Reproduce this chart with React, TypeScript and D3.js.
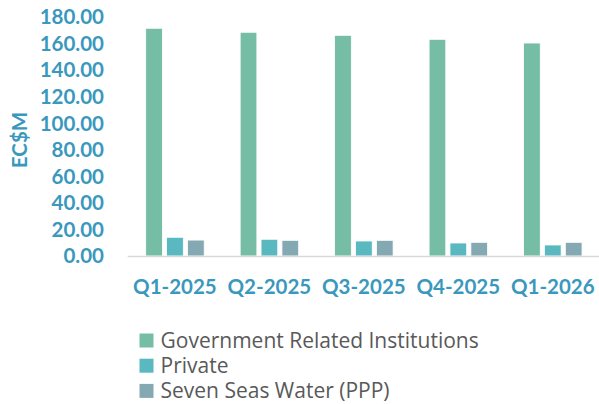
import React from "react";
import * as d3 from "d3";

const categories = ["Q1-2025", "Q2-2025", "Q3-2025", "Q4-2025", "Q1-2026"];
const seriesNames = ["Government Related Institutions", "Private", "Seven Seas Water (PPP)"];
const government = [171.5, 168.5, 166.2, 163.2, 160.4];
const privateVals = [14.1, 12.6, 11.3, 9.8, 8.3];
const sevenSeas = [12.0, 11.8, 11.8, 10.3, 10.3];
const yTicks = [0, 20, 40, 60, 80, 100, 120, 140, 160, 180];
const colors = ["#76bda6", "#5ab8c0", "#85a9b3"];

const W = 599;
const H = 404;
const font = "Lato, 'Open Sans', sans-serif";
const blue = "#3a98bd";

export default function App() {
  const series = [government, privateVals, sevenSeas];
  const x0 = d3.scaleBand<string>().domain(categories).range([127.7, 600]).padding(0);
  const x1 = d3
    .scaleBand<number>()
    .domain([0, 1, 2])
    .range([18, 76.5])
    .paddingInner(0.2)
    .paddingOuter(0);
  const y = d3.scaleLinear().domain([0, 180]).range([256, 17]);

  return (
    <svg
      width={W}
      height={H}
      style={{ position: "absolute", left: 0, top: 0, background: "#fff" }}
      fontFamily={font}
    >
      {categories.map((c, i) => (
        <g key={c} transform={`translate(${x0(c)},0)`}>
          {series.map((s, j) => (
            <rect
              key={j}
              x={x1(j)}
              y={y(s[i])}
              width={x1.bandwidth()}
              height={y(0) - y(s[i])}
              fill={colors[j]}
              stroke="#ffffff"
              strokeWidth={0.8}
            />
          ))}
        </g>
      ))}
      <line x1={127.7} x2={599} y1={y(0) + 0.5} y2={y(0) + 0.5} stroke="#d9d9d9" strokeWidth={1.5} />
      {yTicks.map((t) => (
        <text
          key={t}
          x={104}
          y={y(t)}
          dy="0.36em"
          textAnchor="end"
          fontSize={20.5}
          fontWeight={700}
          fill={blue}
        >
          {d3.format(".2f")(t)}
        </text>
      ))}
      {categories.map((c) => (
        <text
          key={c}
          x={(x0(c) as number) + x0.bandwidth() / 2}
          y={294}
          textAnchor="middle"
          fontSize={20.5}
          fontWeight={700}
          fill={blue}
        >
          {c}
        </text>
      ))}
      <text
        transform="translate(27,140) rotate(-90)"
        textAnchor="middle"
        fontSize={20.5}
        fontWeight={700}
        fill={blue}
      >
        EC$M
      </text>
      {seriesNames.map((n, j) => (
        <g key={n} transform={`translate(139.5,${333.5 + j * 25.2})`}>
          <rect width={14} height={14} fill={colors[j]} />
          <text
            x={21}
            y={7}
            dy="0.34em"
            fontSize={21}
            fontFamily="'Open Sans', sans-serif"
            fill="#595959"
          >
            {n}
          </text>
        </g>
      ))}
    </svg>
  );
}
